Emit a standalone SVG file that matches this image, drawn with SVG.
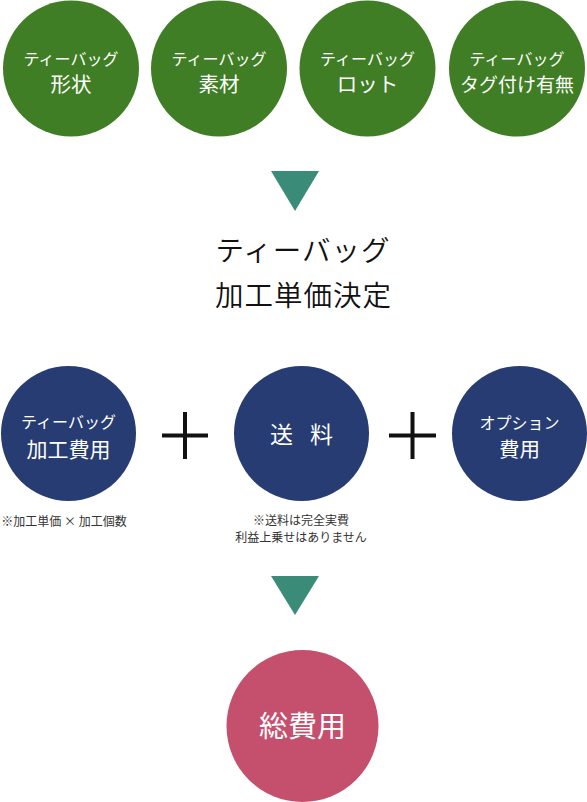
<svg xmlns="http://www.w3.org/2000/svg" width="587" height="802" viewBox="0 0 587 802">
<style>
text{font-family:"Noto Sans CJK JP","Noto Sans",sans-serif;text-anchor:middle}
.g{fill:#3f7e24}
.b{fill:#263c72}
.p{fill:#c5506e}
.tri{fill:#3b8b79}
.w{fill:#fff}
.s{font-size:16px}
.m{font-size:20.5px}
.note{font-size:12px;fill:#333}
.plus{stroke:#111;stroke-width:4;fill:none}
.t{font-size:28.5px;fill:#111;font-weight:350;letter-spacing:1px}
</style>
<rect width="587" height="802" fill="#fff"/>
<g id="n1"><circle class="g" cx="71" cy="68.5" r="68"/><text class="w s" x="71" y="65">ティーバッグ</text><text class="w m" x="71" y="92">形状</text></g>
<g id="n2"><circle class="g" cx="219" cy="68.5" r="68"/><text class="w s" x="219" y="65">ティーバッグ</text><text class="w m" x="219" y="92">素材</text></g>
<g id="n3"><circle class="g" cx="367.5" cy="68.5" r="68"/><text class="w s" x="367.5" y="65">ティーバッグ</text><text class="w m" x="367.5" y="92">ロット</text></g>
<g id="n4"><circle class="g" cx="517" cy="68.5" r="68"/><text class="w s" x="517" y="65">ティーバッグ</text><text class="w" x="517" y="92" font-size="19">タグ付け有無</text></g>
<g id="connectors">
<polygon class="tri" points="271,171 319,171 295,211"/>
<polygon class="tri" points="271,576 319,576 295,615"/>
<path class="plus" d="M162,435.5H208M185,412V459"/>
<path class="plus" d="M389,435.5H436M412.5,412V459"/>
</g>
<g id="title"><text class="t" x="303" y="261">ティーバッグ</text><text class="t" x="303.5" y="306">加工単価決定</text></g>
<g id="b1"><circle class="b" cx="68.5" cy="433.5" r="67.5"/><text class="w s" x="68.5" y="428">ティーバッグ</text><text class="w" x="68.5" y="457" font-size="21">加工費用</text></g>
<g id="b2"><circle class="b" cx="301.5" cy="433.5" r="67.5"/><text class="w" x="281.5" y="443" font-size="23">送</text><text class="w" x="321.5" y="443" font-size="23">料</text></g>
<g id="b3"><circle class="b" cx="519.5" cy="433.5" r="67.5"/><text class="w s" x="519.5" y="429">オプション</text><text class="w m" x="519.5" y="457">費用</text></g>
<g id="notes"><text class="note" x="64" y="526">※加工単価 × 加工個数</text><text class="note" x="301" y="525">※送料は完全実費</text><text class="note" x="301" y="542">利益上乗せはありません</text></g>
<g id="total"><circle class="p" cx="302.5" cy="726" r="76"/><text class="w" x="302.5" y="737" font-size="29">総費用</text></g>
</svg>
